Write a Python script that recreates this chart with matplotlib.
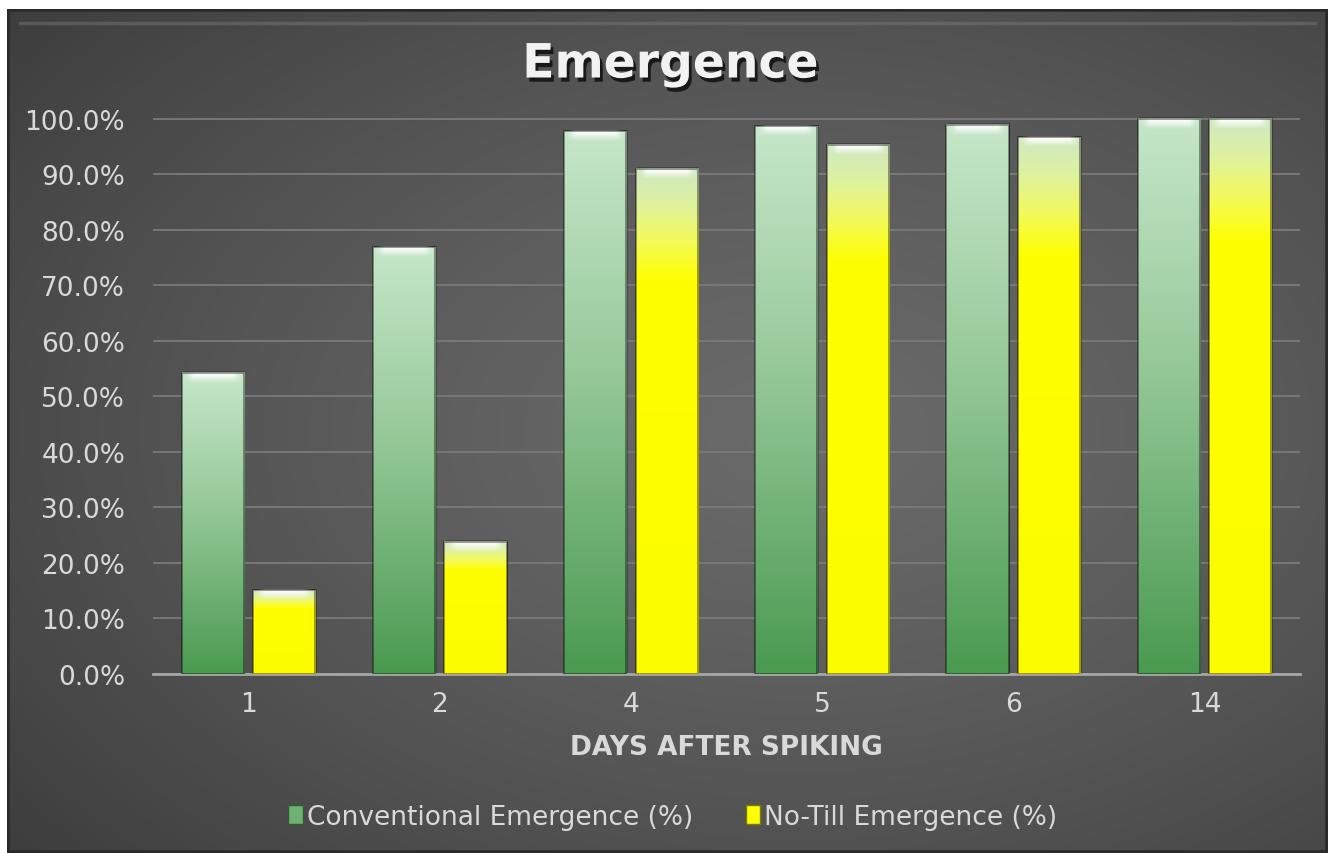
import numpy as np
import matplotlib
matplotlib.use('Agg')
import matplotlib.pyplot as plt
from matplotlib.colors import LinearSegmentedColormap
from matplotlib.patches import Rectangle, Patch
import matplotlib.patheffects as pe

# ---------------- data ----------------
days = ['1', '2', '4', '5', '6', '14']
conventional = [54.3, 76.9, 97.8, 98.7, 99.0, 100.0]
no_till = [15.1, 23.8, 91.0, 95.4, 96.7, 100.0]
series_names = ['Conventional Emergence (%)', 'No-Till Emergence (%)']
yticks = [0, 10, 20, 30, 40, 50, 60, 70, 80, 90, 100]
title = 'Emergence'
xlabel = 'DAYS AFTER SPIKING'

W, H = 1333, 854
plt.rcParams['font.family'] = ['DejaVu Sans']
TXT = '#d9d9d9'

fig = plt.figure(figsize=(W / 100, H / 100), dpi=100, facecolor='white')

# ---------------- background ----------------
bg = fig.add_axes([7 / W, 0, (1328 - 7) / W, (H - 10) / H])
bg.set_axis_off()
yy, xx = np.mgrid[0:1:300j, 0:1:500j]
r = np.sqrt(((xx - 0.6) / 0.8) ** 2 + ((yy - 0.5) / 0.8) ** 2)
v = (106 - 46 * np.clip(r, 0, 1) ** 1.3) / 255.0
bgimg = np.dstack([v, v, v])
bg.imshow(bgimg, extent=[0, 1, 0, 1], aspect='auto', origin='upper')
bg.set_xlim(0, 1)
bg.set_ylim(0, 1)
bg.plot([0.01, 0.99], [1 - 14 / 844, 1 - 14 / 844], color='#7a7a7a', lw=2.5, alpha=0.45,
        solid_capstyle='round')
bg.add_patch(Rectangle((0, 0), 1, 1, fill=False, ec='#2a2a2a', lw=4))

# ---------------- main axes ----------------
ax = fig.add_axes([153 / W, (H - 675) / H, (1300 - 153) / W, (675 - 110) / H])
ax.set_facecolor('none')
for s in ['top', 'right', 'left']:
    ax.spines[s].set_visible(False)
ax.spines['bottom'].set_color('#a6a6a6')
ax.spines['bottom'].set_linewidth(2)
ax.set_yticks(yticks)
ax.set_yticklabels([f'{t:.1f}%' for t in yticks])
ax.set_xticks(np.arange(len(days)))
ax.set_xticklabels(days)
ax.tick_params(axis='both', length=0, colors=TXT, labelsize=19)
ax.tick_params(axis='y', pad=20)
ax.tick_params(axis='x', pad=12)
ax.grid(axis='y', color='#7a7a7a', lw=1.3)
ax.set_axisbelow(True)

green_cmap = LinearSegmentedColormap.from_list(
    'g', [(0, '#c6e7c9'), (0.45, '#95c898'), (1, '#4a9a50')])
yellow_cmap = LinearSegmentedColormap.from_list(
    'y', [(0, '#cfe8c2'), (0.07, '#dff29e'), (0.14, '#f2fa5c'), (0.22, '#ffff00'), (1, '#fcfc00')])

x = np.arange(len(days))
bw = 0.325
off = 0.187
grad = np.linspace(0, 1, 256).reshape(-1, 1)

capH = 10 / 555 * 101.8
rows = np.linspace(0, 1, 40)
cols = np.linspace(0, 1, 60)
va = np.interp(rows, [0, 0.12, 0.35, 1], [0.3, 0.95, 0.8, 0.0])
ha = np.interp(cols, [0, 0.08, 0.18, 0.82, 0.92, 1], [0.0, 0.3, 1, 1, 0.3, 0.0])
cap = np.ones((40, 60, 4))
cap[..., 3] = np.outer(va, ha)

for vals, xs, cmap in [(conventional, x - off, green_cmap), (no_till, x + off, yellow_cmap)]:
    bars = ax.bar(xs, vals, width=bw, facecolor='none', edgecolor=(0, 0, 0, 0.45), lw=1.2, zorder=4)
    for b in bars:
        bx, by, bwid, bh = b.get_x(), b.get_y(), b.get_width(), b.get_height()
        ax.add_patch(Rectangle((bx + 0.008, by), bwid, bh + 0.3, fc=(0, 0, 0, 0.25), ec='none', zorder=2))
        ax.imshow(grad, cmap=cmap, extent=[bx, bx + bwid, by, by + bh], aspect='auto',
                  origin='upper', zorder=3, interpolation='bilinear')
        ax.imshow(cap, extent=[bx, bx + bwid, by + bh - capH, by + bh], aspect='auto',
                  origin='upper', zorder=3.5, interpolation='bilinear')
ax.set_xlim(-0.5, len(days) - 0.5)
ax.set_ylim(0, 101.8)

# ---------------- texts ----------------
fig.text(0.503, 1 - 66 / H, title, ha='center', va='center', fontsize=34, fontweight='bold',
         color='#f2f2f2',
         path_effects=[pe.withSimplePatchShadow(offset=(2, -3), shadow_rgbFace='black', alpha=0.7)])
fig.text(726 / W, 1 - 748 / H, xlabel, ha='center', va='center', fontsize=19, fontweight='bold',
         color=TXT)

handles = [Patch(facecolor='#6fb073', edgecolor='#2e5e30', lw=1),
           Patch(facecolor='#ffff00', edgecolor='#7a7a00', lw=1)]
leg = fig.legend(handles, series_names, loc='center', bbox_to_anchor=(673 / W, 1 - 818 / H),
                 ncol=2, frameon=False, fontsize=19, handlelength=0.55, handleheight=0.75,
                 handletextpad=0.15, columnspacing=2.0, labelcolor=TXT)

fig.savefig('out.png', dpi=100, facecolor='white')
